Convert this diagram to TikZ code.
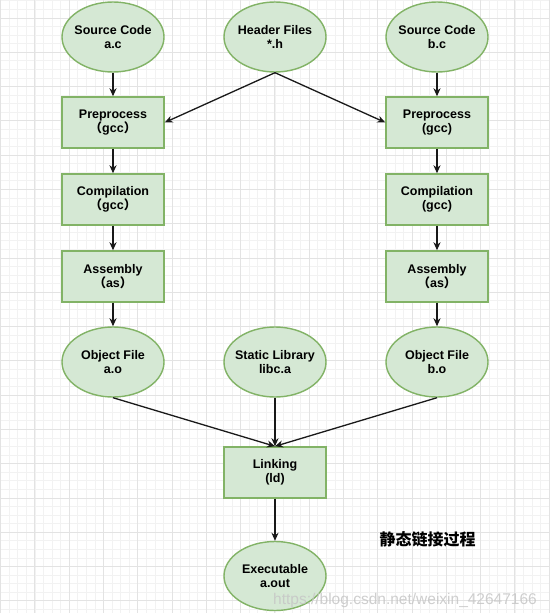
\documentclass[tikz,border=0pt]{standalone}
\usepackage{fontspec}
\setmainfont{Liberation Sans}
\newfontfamily\cjk{Noto Sans CJK SC}
\usetikzlibrary{shapes.geometric,arrows.meta}
\definecolor{nfill}{HTML}{D5E8D4}
\definecolor{nline}{HTML}{82B366}
\definecolor{gminor}{HTML}{F2F2F2}
\definecolor{gmajor}{HTML}{E3E3E3}
\newcommand{\flp}{{\cjk （}}
\newcommand{\frp}{{\cjk ）}}
\tikzset{
  ell/.style={ellipse,draw=nline,fill=nfill,line width=1.4pt,minimum width=102pt,minimum height=70pt,inner sep=0pt},
  boxn/.style={rectangle,draw=nline,fill=nfill,line width=1.4pt,minimum width=102pt,minimum height=51pt,inner sep=0pt,align=center,font=\fontsize{12.5}{14.5}\selectfont\bfseries},
  txt/.style={align=center,inner sep=0pt,font=\fontsize{12.5}{14.5}\selectfont\bfseries},
  arr/.style={draw=black!90,line width=1.3pt,-{Stealth[length=8pt,width=7pt,inset=2.5pt]}}
}
\begin{document}
\begin{tikzpicture}[x=1pt,y=-1pt]
\useasboundingbox (0,0) rectangle (550,613);
\fill[white] (0,0) rectangle (550,613);
% grid
\begin{scope}
\clip (0,0) rectangle (550,613);
\foreach \i in {0,...,65} {
  \draw[gminor,line width=0.8pt] ({0.7+\i*8.5714},0) -- ({0.7+\i*8.5714},613);
}
\foreach \i in {-3,...,72} {
  \draw[gminor,line width=0.8pt] (0,{18+\i*8.5714}) -- (550,{18+\i*8.5714});
}
\foreach \i in {0,...,16} {
  \draw[gmajor,line width=1pt] ({0.7+\i*34.2857},0) -- ({0.7+\i*34.2857},613);
}
\foreach \i in {-1,...,18} {
  \draw[gmajor,line width=1pt] (0,{18+\i*34.2857}) -- (550,{18+\i*34.2857});
}
\end{scope}
% nodes
\node[ell] (srcA) at (113,37) {};
\node[txt] (srcAt) at (srcA) {Source Code\\a.c};
\node[ell] (hdr) at (275,37) {};
\node[txt] (hdrt) at (hdr) {Header Files\\*.h};
\node[ell] (srcB) at (437,37) {};
\node[txt] (srcBt) at (srcB) {Source Code\\b.c};

\node[boxn] (preA) at (113,122.5) {Preprocess\\\flp gcc\frp};
\node[boxn] (preB) at (437,122.5) {Preprocess\\(gcc)};
\node[boxn] (compA) at (113,199.5) {Compilation\\\flp gcc\frp};
\node[boxn] (compB) at (437,199.5) {Compilation\\(gcc)};
\node[boxn] (asmA) at (113,276.5) {Assembly\\\flp as\frp};
\node[boxn] (asmB) at (437,276.5) {Assembly\\\flp as\frp};

\node[ell] (objA) at (113,362) {};
\node[txt] (objAt) at (objA) {Object File\\a.o};
\node[ell] (lib) at (275,362) {};
\node[txt] (libt) at (lib) {Static Library\\libc.a};
\node[ell] (objB) at (437,362) {};
\node[txt] (objBt) at (objB) {Object File\\b.o};

\node[boxn] (link) at (275,472.5) {Linking\\(ld)};
\node[ell,minimum height=69pt] (exe) at (275,576) {};
\node[txt] (exet) at (exe) {Executable\\a.out};

\node[inner sep=0pt,font=\cjk\bfseries\fontsize{16}{18}\selectfont] (title) at (427.5,539) {静态链接过程};
\node[inner sep=0pt,text=gray!45,opacity=0.85,font=\fontsize{15.5}{17}\selectfont] (wm) at (405,600) {https://blog.csdn.net/weixin\_42647166};

% edges
\draw[arr] (srcA) -- (preA);
\draw[arr] (srcB) -- (preB);
\draw[arr] (hdr.south) -- (preA.east);
\draw[arr] (hdr.south) -- (preB.west);
\draw[arr] (preA) -- (compA);
\draw[arr] (compA) -- (asmA);
\draw[arr] (asmA) -- (objA);
\draw[arr] (preB) -- (compB);
\draw[arr] (compB) -- (asmB);
\draw[arr] (asmB) -- (objB);
\draw[arr] (objA.south) -- (link.north);
\draw[arr] (lib.south) -- (link.north);
\draw[arr] (objB.south) -- (link.north);
\draw[arr] (link) -- (exe);
\end{tikzpicture}
\end{document}
